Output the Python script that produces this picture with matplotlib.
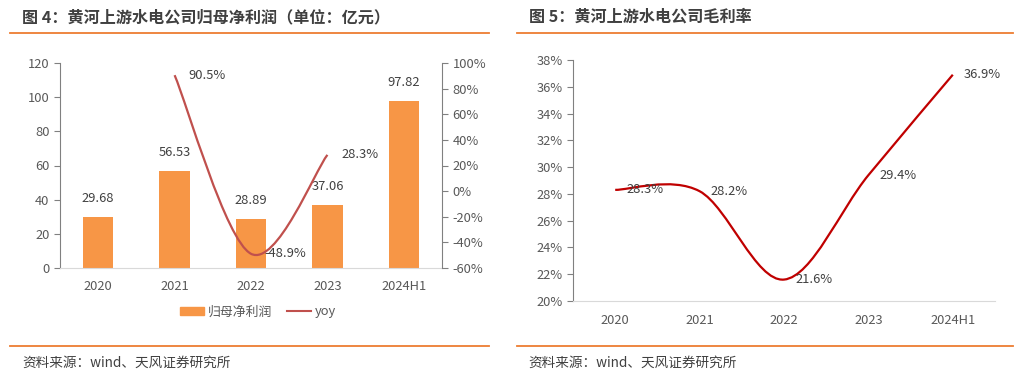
import matplotlib.pyplot as plt
from matplotlib.path import Path
from matplotlib.patches import PathPatch
from matplotlib.lines import Line2D
from matplotlib.ticker import FuncFormatter

plt.rcParams['font.family'] = ['Noto Sans CJK SC', 'DejaVu Sans']

years = ['2020', '2021', '2022', '2023', '2024H1']
profit = [29.68, 56.53, 28.89, 37.06, 97.82]
yoy_idx = [1, 2, 3]
yoy = [90.5, -48.9, 28.3]
margin = [28.3, 28.2, 21.6, 29.4, 36.9]

BAR = '#F79646'
RED1 = '#C0504D'
RED2 = '#C00000'
ORANGE = '#ED7D31'
TICK = '#595959'
TXT = '#404040'


def smooth_path(xs, ys):
    # Excel-like smoothed line: cubic bezier through the data points
    pts = list(zip(xs, ys))
    verts = [pts[0]]
    codes = [Path.MOVETO]
    n = len(pts)
    for i in range(n - 1):
        p0 = pts[i - 1] if i > 0 else pts[i]
        p1 = pts[i]
        p2 = pts[i + 1]
        p3 = pts[i + 2] if i + 2 < n else pts[i + 1]
        c1 = (p1[0] + (p2[0] - p0[0]) / 6, p1[1] + (p2[1] - p0[1]) / 6)
        c2 = (p2[0] - (p3[0] - p1[0]) / 6, p2[1] - (p3[1] - p1[1]) / 6)
        verts += [c1, c2, p2]
        codes += [Path.CURVE4] * 3
    return Path(verts, codes)


fig = plt.figure(figsize=(10.29, 3.81), dpi=100)

# headers / footers
fig.text(22 / 1029, 1 - 17 / 381, '图 4：黄河上游水电公司归母净利润（单位：亿元）', fontsize=11.6,
         fontweight='bold', color=TXT, va='center', ha='left')
fig.text(529 / 1029, 1 - 17 / 381, '图 5：黄河上游水电公司毛利率', fontsize=11.6,
         fontweight='bold', color=TXT, va='center', ha='left')
for y in (33, 346):
    fig.add_artist(Line2D([10 / 1029, 489 / 1029], [1 - y / 381] * 2, color=ORANGE, lw=1.3))
    fig.add_artist(Line2D([517 / 1029, 1013 / 1029], [1 - y / 381] * 2, color=ORANGE, lw=1.3))
fig.text(22 / 1029, 1 - 363 / 381, '资料来源：wind、天风证券研究所', fontsize=9.8, color=TXT,
         va='center', ha='left')
fig.text(528 / 1029, 1 - 363 / 381, '资料来源：wind、天风证券研究所', fontsize=9.8, color=TXT,
         va='center', ha='left')

# ---- left chart
ax = fig.add_axes([60 / 1029, 1 - 268 / 381, 382 / 1029, 205 / 381])
x = list(range(len(years)))
ax.bar(x, profit, width=0.4, color=BAR, zorder=2)
for xi, v in zip(x, profit):
    ax.text(xi, v + 7, f'{v:.2f}', ha='center', va='bottom', fontsize=9.3, color=TXT)
ax.set_xlim(-0.5, 4.5)
ax.set_ylim(0, 120)
ax.set_yticks(range(0, 121, 20))
ax.set_xticks(x)
ax.set_xticklabels(years)
for s in ('top', 'right'):
    ax.spines[s].set_visible(False)
ax.spines['left'].set_color('#808080')
ax.spines['bottom'].set_color('#D9D9D9')
ax.tick_params(axis='y', colors=TICK, labelsize=9.3, length=4, color='#808080')
ax.tick_params(axis='x', colors=TICK, labelsize=9.3, length=0, pad=9)

ax2 = ax.twinx()
ax2.set_ylim(-60, 100)
ax2.set_yticks(range(-60, 101, 20))
ax2.yaxis.set_major_formatter(FuncFormatter(lambda v, p: f'{v:.0f}%'))
for s in ('top', 'left', 'bottom'):
    ax2.spines[s].set_visible(False)
ax2.spines['right'].set_color('#808080')
ax2.tick_params(axis='y', colors=TICK, labelsize=9.3, length=4, color='#808080')
ax2.add_patch(PathPatch(smooth_path(yoy_idx, yoy), facecolor='none', edgecolor=RED1, lw=1.6, zorder=3))
for xi, v in zip(yoy_idx, yoy):
    ax2.annotate(f'{v:.1f}%', (xi, v), xytext=(10, 0), textcoords='offset points',
                 ha='left', va='center', fontsize=9.3, color=TXT)

handles = [plt.Rectangle((0, 0), 1, 1, color=BAR), Line2D([], [], color=RED1, lw=1.5)]
fig.legend(handles, ['归母净利润', 'yoy'], loc='center', bbox_to_anchor=(258 / 1029, 1 - 312 / 381),
           ncol=2, frameon=False, fontsize=9.3, labelcolor=TICK, handlelength=1.8,
           handleheight=0.6, columnspacing=1.2, handletextpad=0.3)

# ---- right chart
bx = fig.add_axes([573 / 1029, 1 - 301 / 381, 422 / 1029, 241 / 381])
bx.add_patch(PathPatch(smooth_path(x, margin), facecolor='none', edgecolor=RED2, lw=1.6, zorder=3))
for xi, v in zip(x, margin):
    bx.annotate(f'{v:.1f}%', (xi, v), xytext=(8, 0), textcoords='offset points',
                ha='left', va='center', fontsize=9.3, color=TXT)
bx.set_xlim(-0.5, 4.5)
bx.set_ylim(20, 38)
bx.set_yticks(range(20, 39, 2))
bx.yaxis.set_major_formatter(FuncFormatter(lambda v, p: f'{v:.0f}%'))
bx.set_xticks(x)
bx.set_xticklabels(years)
for s in ('top', 'right'):
    bx.spines[s].set_visible(False)
bx.spines['left'].set_color('#808080')
bx.spines['bottom'].set_color('#D9D9D9')
bx.tick_params(axis='y', colors=TICK, labelsize=9.3, length=4, color='#808080')
bx.tick_params(axis='x', colors=TICK, labelsize=9.3, length=0, pad=9)

fig.savefig('out.png', dpi=100)
